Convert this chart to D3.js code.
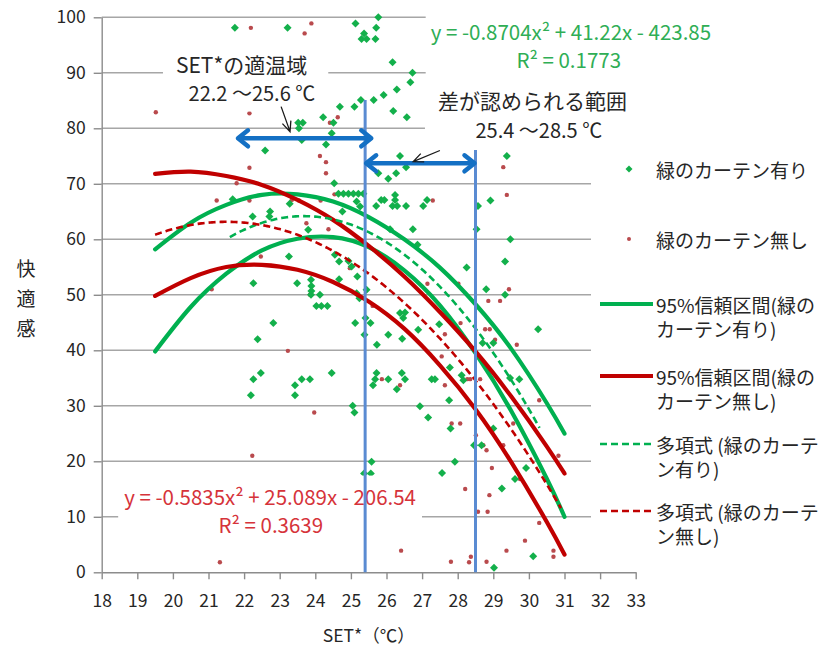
<!DOCTYPE html>
<html>
<head>
<meta charset="utf-8">
<script src="https://cdn.jsdelivr.net/npm/d3@7"></script>
<style>
  body { margin: 0; background: #fff; }
  svg { display: block; }
  text { font-family: "Noto Sans CJK JP", "Noto Sans", sans-serif; }
</style>
</head>
<body>
<svg id="chart" width="828" height="650"></svg>
<script>
// ---- axis ticks ----
const xTickValues = [18, 19, 20, 21, 22, 23, 24, 25, 26, 27, 28, 29, 30, 31, 32, 33];
const yTickValues = [0, 10, 20, 30, 40, 50, 60, 70, 80, 90, 100];

// ---- observations: with green curtain (SET*, comfort) ----
const withX = [21.74, 23.22, 25.13, 25.77, 25.71, 25.37, 25.30, 25.44, 25.69, 26.17, 26.73, 26.67, 26.29, 25.92, 25.64, 25.28,
  25.10, 24.69, 26.19, 26.57, 24.22, 23.52, 23.65, 24.51, 23.54, 24.46, 23.62, 24.30, 22.59, 26.38, 26.55, 26.27,
  26.05, 25.77, 29.38, 24.53, 24.65, 24.79, 24.93, 25.07, 25.21, 25.35, 26.24, 26.24, 26.17, 26.30, 25.71, 25.85,
  25.94, 26.55, 27.03, 27.14, 28.57, 28.92, 25.16, 25.26, 23.28, 22.73, 22.71, 22.24, 21.68, 24.76, 26.74, 26.10,
  23.80, 26.87, 28.53, 29.48, 23.26, 24.55, 24.67, 24.93, 25.02, 25.18, 28.25, 29.33, 22.26, 23.49, 23.88, 23.89,
  23.89, 23.88, 24.13, 24.67, 25.16, 25.24, 25.44, 28.80, 29.33, 24.03, 24.17, 24.34, 26.38, 25.12, 25.55, 25.41,
  25.38, 25.73, 26.05, 26.44, 26.47, 26.52, 26.89, 27.48, 28.70, 29.00, 30.26, 22.82, 22.38, 22.47, 22.26, 22.19,
  23.43, 23.62, 23.85, 23.43, 24.46, 25.72, 25.68, 25.62, 26.05, 26.43, 26.52, 26.29, 27.78, 27.27, 27.36, 28.11,
  28.16, 27.76, 26.94, 27.17, 27.80, 28.46, 28.67, 27.92, 29.00, 29.47, 29.73, 29.61, 29.92, 27.56, 29.24, 30.12,
  29.02, 25.05, 25.10, 25.58, 25.37, 25.56];
const withY = [98.1, 98.1, 98.9, 100.0, 98.1, 97.1, 96.1, 96.1, 96.1, 91.9, 90.0, 88.3, 87.0, 86.0, 85.1, 85.1,
  83.9, 83.9, 83.1, 82.0, 82.0, 81.0, 81.0, 81.0, 80.0, 79.1, 77.9, 77.1, 76.0, 75.0, 73.0, 71.9,
  70.9, 71.9, 75.0, 70.1, 68.2, 68.2, 68.2, 68.2, 68.2, 68.2, 68.0, 67.1, 66.0, 66.0, 66.0, 67.1,
  67.1, 66.0, 66.0, 67.1, 66.0, 67.0, 66.8, 65.9, 66.4, 65.0, 64.1, 64.1, 67.2, 65.0, 61.8, 61.8,
  61.7, 59.0, 61.8, 60.0, 56.9, 57.2, 56.0, 56.1, 55.1, 53.3, 54.9, 56.0, 52.1, 52.1, 52.7, 51.6,
  50.7, 50.0, 50.0, 52.8, 50.3, 49.4, 50.9, 51.0, 50.0, 48.0, 48.0, 48.0, 46.7, 44.9, 44.9, 45.8,
  42.8, 41.0, 42.8, 42.1, 45.8, 46.8, 43.7, 44.7, 41.3, 41.3, 43.8, 44.9, 42.0, 35.9, 34.8, 31.9,
  33.7, 34.8, 34.8, 31.9, 35.9, 35.9, 34.8, 33.7, 34.8, 35.9, 34.8, 33.0, 36.9, 34.8, 34.8, 35.5,
  34.6, 31.0, 29.9, 27.9, 25.9, 22.9, 22.9, 19.9, 25.9, 35.0, 34.8, 16.8, 18.8, 17.9, 15.1, 2.9,
  0.8, 30.0, 28.8, 19.9, 17.8, 17.8];

// ---- observations: without green curtain ----
const withoutX = [22.19, 23.89, 23.70, 19.52, 22.15, 24.63, 24.41, 24.13, 24.30, 24.30, 22.15, 21.79, 24.54, 21.23, 22.15,
  23.34, 23.54, 24.15, 23.75, 24.37, 22.47, 21.09, 23.85, 24.97, 25.61, 23.23, 23.97, 22.23, 21.39, 21.32,
  26.41, 25.87, 26.38, 29.28, 29.38, 27.30, 28.02, 27.15, 29.44, 29.19, 28.86, 28.08, 27.64, 28.77, 28.90,
  29.05, 29.66, 27.55, 28.27, 28.35, 28.63, 27.64, 30.29, 27.83, 28.07, 28.51, 28.72, 28.81, 29.28, 29.56,
  28.96, 28.21, 28.89, 28.57, 28.84, 29.75, 30.29, 29.89, 30.83, 30.69, 30.69, 29.37, 27.81, 28.37, 28.32, 28.81];
const withoutY = [98.1, 98.9, 97.1, 82.9, 82.7, 82.0, 81.0, 75.0, 73.9, 71.9, 72.9, 70.1, 68.1, 67.0, 67.0,
  67.1, 67.0, 67.0, 62.9, 61.8, 56.9, 51.0, 50.0, 54.8, 48.0, 39.9, 28.8, 21.0, 16.9, 1.8,
  3.9, 34.8, 33.7, 73.0, 68.0, 67.0, 52.0, 52.0, 51.0, 48.9, 48.9, 44.9, 42.9, 43.8, 43.8,
  41.9, 41.0, 38.9, 34.8, 34.8, 34.8, 33.7, 31.0, 26.8, 26.8, 24.7, 22.9, 22.0, 22.9, 26.8,
  18.8, 15.0, 13.9, 10.9, 10.9, 16.8, 8.9, 5.7, 21.0, 3.9, 2.8, 3.9, 1.9, 2.8, 1.8, 1.9];

// ---- 95% confidence bands ----
const bandX = [19.5, 20.5, 21.5, 22.5, 23.5, 24.5, 25.5, 26.5, 27.5, 28.5, 29.5, 30.5, 31];
const withUpper = [58.2, 63.0, 66.2, 68.0, 68.1, 66.8, 64.0, 60.0, 54.9, 48.3, 40.3, 30.5, 25.0];
const withLower = [39.8, 47.8, 53.8, 58.0, 60.1, 60.4, 58.6, 54.4, 48.1, 39.5, 29.1, 16.9, 10.0];
const withoutUpper = [71.8, 72.2, 71.4, 69.8, 67.1, 63.5, 58.8, 53.3, 46.9, 39.8, 31.7, 22.7, 17.8];
const withoutLower = [49.8, 53.0, 55.0, 55.4, 54.5, 52.3, 48.8, 43.9, 37.3, 29.4, 19.9, 9.1, 3.2];

// ---- quadratic trend lines (coefficients a, b, c) and their x extents ----
const withFit = [-0.8704, 41.22, -423.85];
const withFitRange = [21.6, 30.3];
const withoutFit = [-0.5835, 25.089, -206.54];
const withoutFitRange = [19.5, 30.9];

// ---- range annotations ----
const comfortArrow = [21.8, 25.6];
const comfortArrowLevel = 78.2;
const diffArrow = [25.4, 28.5];
const diffArrowLevel = 73.7;
const rangeMarkers = [25.4, 28.5];
const rangeMarkerTops = [85.1, 76.1];

const C = {
  green: "#00b050", red: "#c00000",
  greenDot: "#13b04b", redDot: "#b94a4d",
  greenText: "#2fae55", redText: "#d6333a",
  grid: "#a6a6a6", axis: "#8c8c8c", text: "#262626",
  markerLine: "#5a8bd2", arrow: "#1470c4"
};

const svg = d3.select("#chart");
const X0 = 101.7, X1 = 635.7, Y0 = 572.3, Y1 = 17.3;
const x = d3.scaleLinear().domain([18, 33]).range([X0, X1]);
const y = d3.scaleLinear().domain([0, 100]).range([Y0, Y1]);

// gridlines
svg.append("g").selectAll("line")
  .data(yTickValues.filter(v => v > 0)).join("line")
  .attr("x1", X0).attr("x2", X1)
  .attr("y1", d => y(d)).attr("y2", d => y(d))
  .attr("stroke", C.grid).attr("stroke-width", 1.4);

// axes
const yAxis = svg.append("g").attr("transform", `translate(${X0},0)`)
  .call(d3.axisLeft(y).tickValues(yTickValues).tickSize(8).tickSizeOuter(0).tickPadding(8));
const xAxis = svg.append("g").attr("transform", `translate(0,${Y0})`)
  .call(d3.axisBottom(x).tickValues(xTickValues).tickSize(7).tickSizeOuter(0).tickPadding(15));
[yAxis, xAxis].forEach(g => {
  g.select(".domain").attr("stroke", C.axis).attr("stroke-width", 1.4);
  g.selectAll(".tick line").attr("stroke", C.axis).attr("stroke-width", 1.4);
  g.selectAll(".tick text").attr("fill", C.text).style("font-size", "17.5px")
    .style("font-family", '"Noto Sans CJK JP", sans-serif');
});

// axis titles
svg.append("text").attr("x", (X0 + X1) / 2).attr("y", 642).attr("text-anchor", "middle")
  .attr("fill", C.text).style("font-size", "17.5px").text("SET*（℃）");
const yTitle = svg.append("text").attr("x", 26).attr("text-anchor", "middle")
  .attr("fill", C.text).style("font-size", "19px");
["快", "適", "感"].forEach((ch, i) => {
  yTitle.append("tspan").attr("x", 26).attr("y", 276 + i * 30).text(ch);
});

// scatter: without curtain (small dots)
svg.append("g").selectAll("circle")
  .data(withoutX.map((v, i) => [v, withoutY[i]])).join("circle")
  .attr("cx", d => x(d[0])).attr("cy", d => y(d[1])).attr("r", 2.2)
  .attr("fill", C.redDot);

// scatter: with curtain (diamonds)
const diamond = r => `M0,${-r}L${r},0L0,${r}L${-r},0Z`;
svg.append("g").selectAll("path")
  .data(withX.map((v, i) => [v, withY[i]])).join("path")
  .attr("d", diamond(4))
  .attr("transform", d => `translate(${x(d[0])},${y(d[1])})`)
  .attr("fill", C.greenDot);

// confidence bands
const band = d3.line().x(d => x(d[0])).y(d => y(d[1])).curve(d3.curveNatural);
[[withUpper, C.green], [withLower, C.green], [withoutUpper, C.red], [withoutLower, C.red]]
  .forEach(([vals, col]) => {
    svg.append("path").datum(bandX.map((v, i) => [v, vals[i]]))
      .attr("d", band).attr("fill", "none").attr("stroke", col)
      .attr("stroke-width", 4.2).attr("stroke-linecap", "round");
  });

// polynomial trend lines
const poly = (k, t) => k[0] * t * t + k[1] * t + k[2];
[[withFit, withFitRange, C.green], [withoutFit, withoutFitRange, C.red]].forEach(([k, r, col]) => {
  const pts = d3.range(r[0], r[1] + 1e-9, 0.05).map(t => [t, poly(k, t)]);
  svg.append("path").datum(pts)
    .attr("d", d3.line().x(d => x(d[0])).y(d => y(d[1])))
    .attr("fill", "none").attr("stroke", col).attr("stroke-width", 2.6)
    .attr("stroke-dasharray", "7,4");
});

// text label with white backing box
function boxedLabel(lines, pad) {
  const g = svg.append("g");
  const bg = g.append("rect").attr("fill", "#fff");
  lines.forEach(l => {
    g.append("text").attr("x", x(l.x)).attr("y", y(l.y)).attr("text-anchor", "middle")
      .attr("fill", l.color).style("font-size", l.size + "px").text(l.text);
  });
  const b = g.node().getBBox();
  bg.attr("x", b.x - pad[0]).attr("y", b.y - pad[1])
    .attr("width", b.width + 2 * pad[0]).attr("height", b.height + 2 * pad[1]);
  return g;
}

boxedLabel([
  { text: "y = -0.8704x² + 41.22x - 423.85", x: 31.18, y: 96.0, size: 20.5, color: C.greenText },
  { text: "R² = 0.1773", x: 31.12, y: 90.9, size: 20.5, color: C.greenText }
], [5, 4]);
boxedLabel([
  { text: "差が認められる範囲", x: 30.1, y: 83.5, size: 21, color: C.text },
  { text: "25.4 ～28.5 ℃", x: 30.28, y: 78.3, size: 20, color: C.text }
], [13, 6]);
boxedLabel([
  { text: "SET*の適温域", x: 21.93, y: 90.0, size: 21, color: C.text },
  { text: "22.2 ～25.6 ℃", x: 22.22, y: 85.0, size: 20, color: C.text }
], [13, 5]);
boxedLabel([
  { text: "y = -0.5835x² + 25.089x - 206.54", x: 22.73, y: 12.2, size: 20.5, color: C.redText },
  { text: "R² = 0.3639", x: 22.75, y: 7.0, size: 20.5, color: C.redText }
], [6, 5]);

// vertical markers of the ranges
svg.append("g").selectAll("line").data(rangeMarkers.map((v, i) => [v, rangeMarkerTops[i]])).join("line")
  .attr("x1", d => x(d[0])).attr("x2", d => x(d[0]))
  .attr("y1", d => y(d[1])).attr("y2", y(0))
  .attr("stroke", C.markerLine).attr("stroke-width", 3);

// double-headed range arrows
function rangeArrow(r, level) {
  const g = svg.append("g").attr("stroke", C.arrow).attr("stroke-width", 4.5)
    .attr("fill", "none").attr("stroke-linecap", "round").attr("stroke-linejoin", "round");
  const a = x(r[0]), b = x(r[1]), v = y(level);
  g.append("line").attr("x1", a + 2).attr("x2", b - 2).attr("y1", v).attr("y2", v);
  g.append("path").attr("d", `M${a + 11},${v - 8}L${a + 1},${v}L${a + 11},${v + 8}`);
  g.append("path").attr("d", `M${b - 11},${v - 8}L${b - 1},${v}L${b - 11},${v + 8}`);
}
rangeArrow(comfortArrow, comfortArrowLevel);
rangeArrow(diffArrow, diffArrowLevel);

// thin pointer arrows from the labels
function pointer(from, to) {
  const x1 = x(from[0]), y1 = y(from[1]), x2 = x(to[0]), y2 = y(to[1]);
  const ang = Math.atan2(y2 - y1, x2 - x1);
  const L = 11, s = 0.42;
  const p1 = [x2 - L * Math.cos(ang - s), y2 - L * Math.sin(ang - s)];
  const p2 = [x2 - L * Math.cos(ang + s), y2 - L * Math.sin(ang + s)];
  svg.append("path")
    .attr("d", `M${x1},${y1}L${x2},${y2}M${p1[0]},${p1[1]}L${x2},${y2}L${p2[0]},${p2[1]}`)
    .attr("fill", "none").attr("stroke", "#1a1a1a").attr("stroke-width", 1.3);
}
pointer([23.04, 83.9], [23.29, 79.4]);
pointer([27.50, 76.0], [26.75, 74.0]);

// legend
const lg = svg.append("g");
lg.append("rect").attr("x", 591).attr("y", 140).attr("width", 237).attr("height", 420).attr("fill", "#fff");
const legendItems = [
  { kind: "diamond", color: C.greenDot, lines: ["緑のカーテン有り"], cy: 169 },
  { kind: "dot", color: C.redDot, lines: ["緑のカーテン無し"], cy: 239 },
  { kind: "solid", color: C.green, lines: ["95%信頼区間(緑の", "カーテン有り)"], cy: 304 },
  { kind: "solid", color: C.red, lines: ["95%信頼区間(緑の", "カーテン無し)"], cy: 376 },
  { kind: "dash", color: C.green, lines: ["多項式 (緑のカーテ", "ン有り)"], cy: 444 },
  { kind: "dash", color: C.red, lines: ["多項式 (緑のカーテ", "ン無し)"], cy: 511 }
];
legendItems.forEach(it => {
  if (it.kind === "diamond") {
    lg.append("path").attr("d", diamond(3.5)).attr("transform", `translate(629,${it.cy})`).attr("fill", it.color);
  } else if (it.kind === "dot") {
    lg.append("circle").attr("cx", 629).attr("cy", it.cy).attr("r", 2).attr("fill", it.color);
  } else {
    lg.append("line").attr("x1", 600).attr("x2", 653).attr("y1", it.cy).attr("y2", it.cy)
      .attr("stroke", it.color).attr("stroke-width", it.kind === "solid" ? 4 : 2.6)
      .attr("stroke-dasharray", it.kind === "dash" ? "7,4" : null);
  }
  it.lines.forEach((t, i) => {
    lg.append("text").attr("x", 656).attr("y", it.cy + i * 24.5).attr("dominant-baseline", "central")
      .attr("fill", C.text).style("font-size", "19px").text(t);
  });
});
</script>
</body>
</html>
